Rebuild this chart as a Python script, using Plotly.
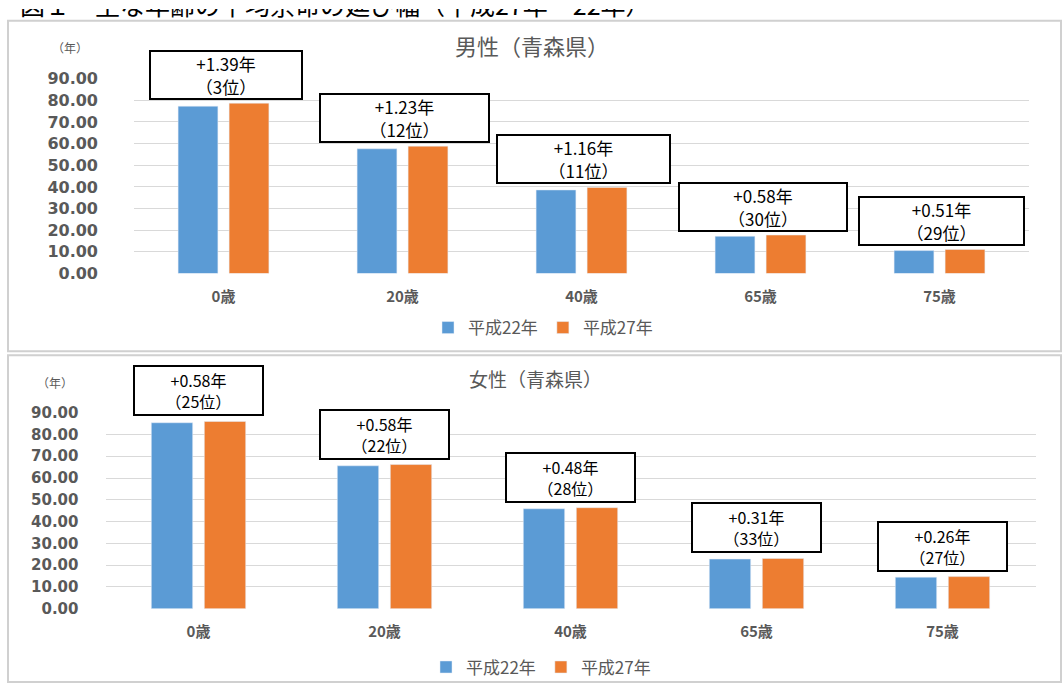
import plotly.graph_objects as go

ages = ["0歳", "20歳", "40歳", "65歳", "75歳"]
series_names = ["平成22年", "平成27年"]
male_h22 = [77.28, 57.60, 38.60, 17.20, 10.60]
male_h27 = [78.67, 58.83, 39.76, 17.78, 11.11]
male_gain = ["+1.39年", "+1.23年", "+1.16年", "+0.58年", "+0.51年"]
male_rank = ["（3位）", "（12位）", "（11位）", "（30位）", "（29位）"]
female_h22 = [85.35, 65.60, 45.90, 22.80, 14.50]
female_h27 = [85.93, 66.18, 46.38, 23.11, 14.76]
female_gain = ["+0.58年", "+0.58年", "+0.48年", "+0.31年", "+0.26年"]
female_rank = ["（25位）", "（22位）", "（28位）", "（33位）", "（27位）"]
y_ticks = [0, 10, 20, 30, 40, 50, 60, 70, 80, 90]
header_text = ["図１　主な年齢の平均余命の延び幅（平成27年－22年）"]

W, H = 1063, 693
BLUE = "#5B9BD5"
ORANGE = "#ED7D31"
GREY = "#595959"
FONT = "Noto Sans CJK JP"
NUMFONT = "DejaVu Sans"


def px(x):
    return x / W


def py(y):
    return (H - y) / H


fig = go.Figure()
fig.add_trace(go.Bar(x=ages, y=male_h22, name=series_names[0], marker_color=BLUE,
                     xaxis="x", yaxis="y", legend="legend"))
fig.add_trace(go.Bar(x=ages, y=male_h27, name=series_names[1], marker_color=ORANGE,
                     xaxis="x", yaxis="y", legend="legend"))
fig.add_trace(go.Bar(x=ages, y=female_h22, name=series_names[0], marker_color=BLUE,
                     xaxis="x2", yaxis="y2", legend="legend2"))
fig.add_trace(go.Bar(x=ages, y=female_h27, name=series_names[1], marker_color=ORANGE,
                     xaxis="x2", yaxis="y2", legend="legend2"))
# page header, partly cut off at the top edge (clipped by its own hidden axes)
fig.add_trace(go.Scatter(x=[0], y=[1.0], text=header_text, mode="text",
                         textposition="middle right", cliponaxis=True, showlegend=False,
                         hoverinfo="skip",
                         textfont=dict(family=FONT, size=25, color="#000000"),
                         xaxis="x3", yaxis="y3"))

tickfont = dict(family=NUMFONT, size=16, color=GREY, weight="bold")
xfont = dict(family=FONT, size=15, color=GREY, weight="bold")

annotations = []
male_w = [150, 167, 171, 166, 163]
for i, a in enumerate(ages):
    annotations.append(dict(
        x=a, y=male_h27[i], xref="x", yref="y", xanchor="center", yanchor="bottom",
        yshift=3, xshift=2, text=male_gain[i] + "<br>" + male_rank[i], showarrow=False,
        width=male_w[i], height=46, borderpad=0, bordercolor="#000000", borderwidth=2,
        bgcolor="white", font=dict(family=FONT, size=17, color="#000000")))
for i, a in enumerate(ages):
    annotations.append(dict(
        x=a, y=female_h27[i], xref="x2", yref="y2", xanchor="center", yanchor="bottom",
        yshift=5, text=female_gain[i] + "<br>" + female_rank[i], showarrow=False,
        width=127, height=47, borderpad=0, bordercolor="#000000", borderwidth=2,
        bgcolor="white", font=dict(family=FONT, size=16, color="#000000")))

annotations += [
    dict(x=px(532), y=py(37), xref="paper", yref="paper", text="男性（青森県）", showarrow=False,
         font=dict(family=FONT, size=22, color=GREY), xanchor="center", yanchor="middle"),
    dict(x=px(535), y=py(380), xref="paper", yref="paper", text="女性（青森県）", showarrow=False,
         font=dict(family=FONT, size=19, color=GREY), xanchor="center", yanchor="middle"),
    dict(x=px(70), y=py(40), xref="paper", yref="paper", text="（年）", showarrow=False,
         font=dict(family=FONT, size=12, color=GREY), xanchor="center", yanchor="middle"),
    dict(x=px(55), y=py(384), xref="paper", yref="paper", text="（年）", showarrow=False,
         font=dict(family=FONT, size=12, color=GREY), xanchor="center", yanchor="middle"),
]

shapes = [
    dict(type="rect", xref="paper", yref="paper", x0=px(8), x1=px(1061), y0=py(12), y1=py(352),
         line=dict(color="#d0d0d0", width=2), fillcolor="rgba(0,0,0,0)", layer="below"),
    dict(type="rect", xref="paper", yref="paper", x0=px(8), x1=px(1061), y0=py(356), y1=py(692),
         line=dict(color="#d0d0d0", width=2), fillcolor="rgba(0,0,0,0)", layer="below"),
]

fig.update_layout(
    width=W, height=H,
    margin=dict(l=0, r=0, t=0, b=0),
    paper_bgcolor="white", plot_bgcolor="white",
    barmode="group", bargap=0.43, bargroupgap=0.22,
    font=dict(family=FONT, color=GREY),
    xaxis=dict(domain=[px(134), px(1029)], anchor="y", showgrid=False, zeroline=False,
               showline=False, tickfont=xfont, ticks="", ticklabelstandoff=12),
    yaxis=dict(domain=[py(272), py(71.6)], anchor="x", range=[0, 90], tickvals=y_ticks,
               tickformat=".2f", showgrid=True, gridcolor="#d9d9d9", gridwidth=1,
               zeroline=False, showline=False, tickfont=tickfont, ticks="",
               ticklabelstandoff=35),
    xaxis2=dict(domain=[px(105.5), px(1035.5)], anchor="y2", showgrid=False, zeroline=False,
                showline=False, tickfont=xfont, ticks="", ticklabelstandoff=12),
    yaxis2=dict(domain=[py(616.7), py(415)], anchor="x2", range=[0, 90], tickvals=y_ticks,
                tickformat=".2f", showgrid=True, gridcolor="#d9d9d9", gridwidth=1,
                zeroline=False, showline=False,
                tickfont=dict(family=NUMFONT, size=15, color=GREY, weight="bold"),
                ticks="", ticklabelstandoff=26),
    xaxis3=dict(domain=[px(20), 1], anchor="y3", range=[0, 1], visible=False, fixedrange=True),
    yaxis3=dict(domain=[py(11), 1], anchor="x3", range=[0, 1], visible=False, fixedrange=True),
    legend=dict(orientation="h", x=px(543), y=py(328), xanchor="center", yanchor="middle",
                font=dict(family=FONT, size=17, color=GREY), itemwidth=30, traceorder="normal",
                bgcolor="rgba(0,0,0,0)"),
    legend2=dict(orientation="h", x=px(541), y=py(677), xanchor="center", yanchor="middle",
                 font=dict(family=FONT, size=17, color=GREY), itemwidth=30, traceorder="normal",
                 bgcolor="rgba(0,0,0,0)"),
    annotations=annotations,
    shapes=shapes,
)

# pin the chart to the window's top-left corner and let it fill the visible page
page_fix = (
    "document.body.style.margin='0';"
    "document.body.style.overflow='hidden';"
    "var gd=document.getElementById('{plot_id}');"
    "gd.style.position='fixed';gd.style.top='0px';gd.style.left='0px';"
    "var vw=document.documentElement.clientWidth||window.innerWidth;"
    "var vh=document.documentElement.clientHeight||window.innerHeight;"
    "gd.style.width=vw+'px';gd.style.height=vh+'px';"
    "return Plotly.relayout(gd,{width:vw,height:vh});"
)
fig.write_html("out.html", config={"displayModeBar": False}, post_script=page_fix)
